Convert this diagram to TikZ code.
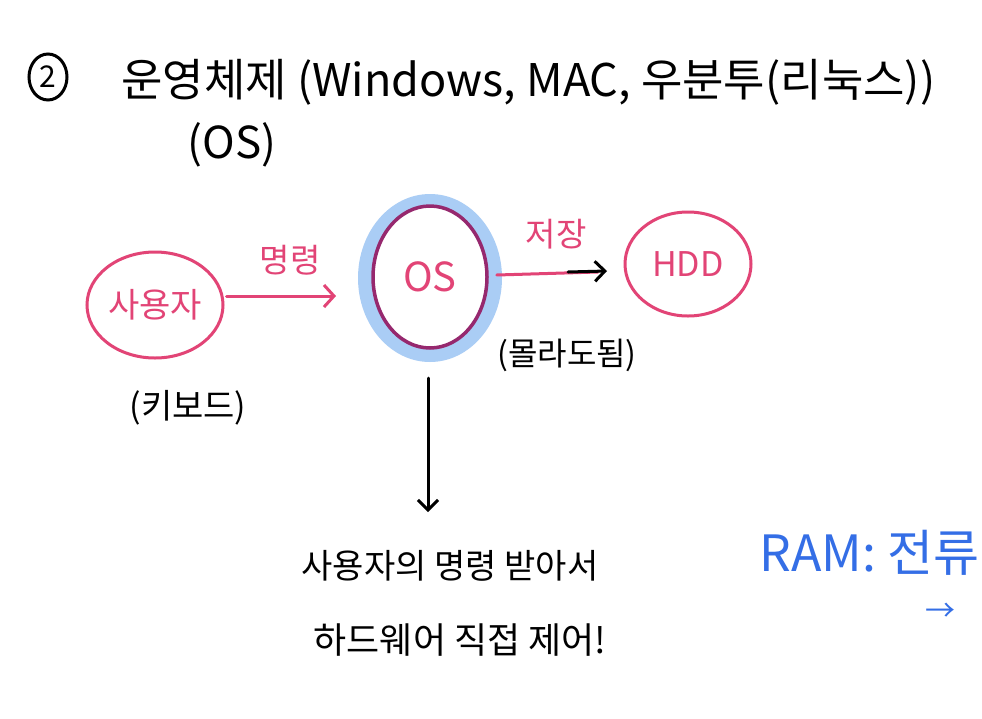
\documentclass[tikz,border=0pt]{standalone}
\usepackage{fontspec}
\setmainfont{Noto Sans CJK KR}
\usetikzlibrary{arrows.meta,shapes.geometric}
\definecolor{pinkink}{RGB}{226,68,118}
\definecolor{blueink}{RGB}{52,110,230}
\definecolor{halo}{RGB}{170,205,245}
\definecolor{ringpurple}{RGB}{150,40,110}
\tikzset{
  x=1pt,y=-1pt,
  pinktxt/.style={text=pinkink,font=\fontsize{34}{34}\selectfont},
  blacktxt/.style={text=black,font=\fontsize{34}{34}\selectfont},
  pinkring/.style={draw=pinkink,line width=3pt,ellipse},
  pinkarrow/.style={draw=pinkink,line width=3pt,line cap=round,-{Straight Barb[length=10pt,width=22pt,line width=3pt]}},
  blackarrow/.style={draw=black,line width=3pt,line cap=round,-{Straight Barb[length=10pt,width=20pt,line width=3pt]}},
}
\begin{document}
\begin{tikzpicture}
\path[use as bounding box,fill=white] (0,0) rectangle (982,718);
\clip (0,0) rectangle (982,718);
% title
\node[draw,line width=3pt,ellipse,minimum width=38pt,minimum height=46pt,inner sep=0pt,font=\fontsize{30}{30}\selectfont] (num) at (48,77) {2};
\node[anchor=west,blacktxt,font=\fontsize{45}{45}\selectfont] (title) at (118,82) {운영체제 (Windows, MAC, 우분투(리눅스))};
\node[blacktxt,font=\fontsize{44}{44}\selectfont] (ostitle) at (232,145) {(OS)};
% user
\node[pinkring,pinktxt,minimum width=136pt,minimum height=106pt,inner sep=0pt] (user) at (155,305) {사용자};
\node[blacktxt] (kb) at (188,408) {(키보드)};
% OS
\fill[halo] (430,278) ellipse (72 and 84);
\node[draw=ringpurple,fill=white,line width=3.5pt,ellipse,minimum width=114pt,minimum height=142pt,text=pinkink,font=\fontsize{40}{40}\selectfont] (os) at (430,277) {OS};
% HDD
\node[pinkring,pinktxt,minimum width=126pt,minimum height=104pt,inner sep=0pt] (hdd) at (688,264) {HDD};
% arrows
\coordinate (a1e) at (336,296);
\draw[pinkarrow] (user.east) ++(2,-9) -- (a1e);
\node[pinktxt,font=\fontsize{33}{33}\selectfont] (cmd) at (290,260) {명령};
\coordinate (hddin) at (607,271);
\draw[draw=pinkink,line width=3pt,line cap=round] (os.east) ++(8,-2) -- (598,272);
\draw[blackarrow] (568,272) -- (hddin);
\node[pinktxt,font=\fontsize{33}{33}\selectfont] (save) at (556,234) {저장};
\node[blacktxt,font=\fontsize{32}{32}\selectfont] (opt) at (567,355) {(몰라도됨)};
\coordinate (dtop) at (428,378);
\coordinate (dend) at (428,512);
\draw[blackarrow] (dtop) -- (dend);
% bottom text
\node[blacktxt] (l1) at (450,566) {사용자의 명령 받아서};
\node[blacktxt,font=\fontsize{36}{36}\selectfont] (l2) at (460,640) {하드웨어 직접 제어!};
% RAM
\node[anchor=west,text=blueink,font=\fontsize{50}{50}\selectfont] (ram) at (756,553) {RAM: 전류};
\node[anchor=west,text=blueink,font=\fontsize{30}{30}\selectfont] (ramarrow) at (922,612) {→};
\end{tikzpicture}
\end{document}
